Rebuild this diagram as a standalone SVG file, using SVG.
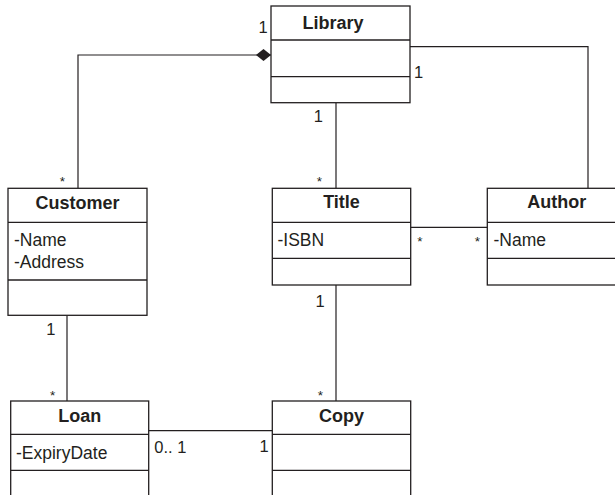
<svg xmlns="http://www.w3.org/2000/svg" width="615" height="495" viewBox="0 0 615 495">
<style>
.box{fill:#fff;stroke:#231f20;stroke-width:1.3}
.div{stroke:#231f20;stroke-width:1.3}
.name{font-family:"Liberation Sans",Arial,sans-serif;font-weight:bold;font-size:18px;fill:#231f20;text-anchor:middle}
.attr{font-family:"Liberation Sans",Arial,sans-serif;font-size:17.5px;fill:#231f20}
.mult{font-family:"Liberation Sans",Arial,sans-serif;font-size:16.5px;fill:#231f20}
.star{font-family:"Liberation Sans",Arial,sans-serif;font-size:13.5px;fill:#231f20;text-anchor:middle}
.conn{fill:none;stroke:#231f20;stroke-width:1.2}
</style>
<defs>
<marker id="diamond" markerUnits="userSpaceOnUse" viewBox="0 -7 16 14" markerWidth="16" markerHeight="14" refX="0" refY="0" orient="auto" overflow="visible">
<path d="M0,0 L7.5,-6 L15,0 L7.5,6 Z" fill="#231f20"/>
</marker>
</defs>
<rect width="615" height="495" fill="#fff"/>
<g id="connectors">
<path class="conn" d="M271,55 H78 V188.3" marker-start="url(#diamond)"/>
<path class="conn" d="M410,46.7 H588 V188.3"/>
<path class="conn" d="M336,102.7 V188.3"/>
<path class="conn" d="M410.7,227.3 H487.3"/>
<path class="conn" d="M336,285 V401"/>
<path class="conn" d="M67,315.3 V401"/>
<path class="conn" d="M148.7,430.7 H272.3"/>
<text class="mult" x="263" y="33.3" text-anchor="middle">1</text>
<text class="mult" x="418.7" y="78.3" text-anchor="middle">1</text>
<text class="mult" x="318.3" y="121.7" text-anchor="middle">1</text>
<text class="star" x="62.3" y="186.4">*</text>
<text class="star" x="319.3" y="186.4">*</text>
<text class="star" x="420" y="246">*</text>
<text class="star" x="477.3" y="246">*</text>
<text class="mult" x="320" y="306.7" text-anchor="middle">1</text>
<text class="mult" x="50.8" y="335" text-anchor="middle">1</text>
<text class="star" x="52.7" y="400">*</text>
<text class="star" x="320.3" y="400">*</text>
<text class="mult" x="154.3" y="453.3">0.. 1</text>
<text class="mult" x="264" y="452.3" text-anchor="middle">1</text>
</g>
<g id="library">
<rect class="box" x="271" y="6" width="139" height="96.7"/>
<line class="div" x1="271" y1="40" x2="410" y2="40"/>
<line class="div" x1="271" y1="76.7" x2="410" y2="76.7"/>
<text class="name" x="333" y="29.3">Library</text>
</g>
<g id="customer">
<rect class="box" x="8" y="188.3" width="139" height="127"/>
<line class="div" x1="8" y1="222.3" x2="147" y2="222.3"/>
<line class="div" x1="8" y1="280" x2="147" y2="280"/>
<text class="name" x="77.5" y="209.3">Customer</text>
<text class="attr" x="14" y="245.7">-Name</text>
<text class="attr" x="14" y="268.3">-Address</text>
</g>
<g id="title">
<rect class="box" x="272.3" y="188.3" width="138.4" height="96.7"/>
<line class="div" x1="272.3" y1="222.3" x2="410.7" y2="222.3"/>
<line class="div" x1="272.3" y1="258.3" x2="410.7" y2="258.3"/>
<text class="name" x="341.5" y="208.3">Title</text>
<text class="attr" x="277.5" y="245.7">-ISBN</text>
</g>
<g id="author">
<rect class="box" x="487.3" y="188.3" width="139" height="96.7"/>
<line class="div" x1="487.3" y1="222.3" x2="626.3" y2="222.3"/>
<line class="div" x1="487.3" y1="258.3" x2="626.3" y2="258.3"/>
<text class="name" x="556.8" y="208.3">Author</text>
<text class="attr" x="493.5" y="245.7">-Name</text>
</g>
<g id="loan">
<rect class="box" x="10.7" y="401" width="138" height="120"/>
<line class="div" x1="10.7" y1="434.3" x2="148.7" y2="434.3"/>
<line class="div" x1="10.7" y1="470.3" x2="148.7" y2="470.3"/>
<text class="name" x="79.7" y="421.7">Loan</text>
<text class="attr" x="16" y="459">-ExpiryDate</text>
</g>
<g id="copy">
<rect class="box" x="272.3" y="401" width="138.4" height="120"/>
<line class="div" x1="272.3" y1="434.3" x2="410.7" y2="434.3"/>
<line class="div" x1="272.3" y1="470.3" x2="410.7" y2="470.3"/>
<text class="name" x="341.5" y="421.7">Copy</text>
</g>
</svg>
